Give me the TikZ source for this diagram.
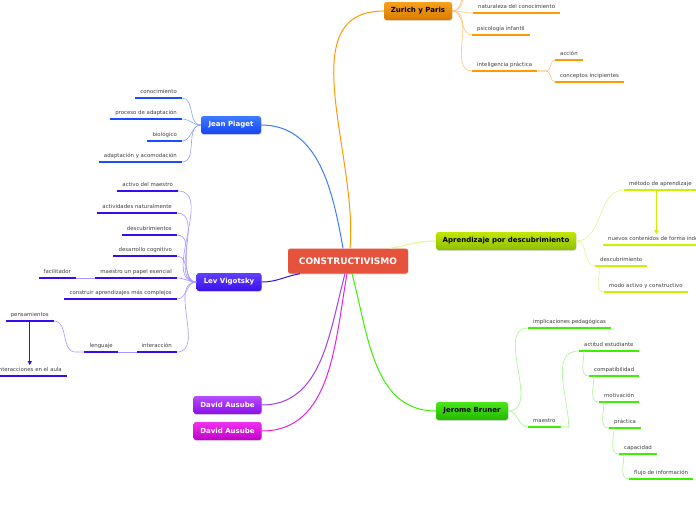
\documentclass[tikz,border=0pt]{standalone}
\usepackage{fontspec}
\setmainfont{DejaVu Sans}
\usepackage{tikz}
\usetikzlibrary{positioning}
\usetikzlibrary{calc}
\usetikzlibrary{arrows.meta}
\usetikzlibrary{shadows}

\definecolor{centro}{RGB}{229,83,60}
\definecolor{zurichA}{RGB}{247,162,27}
\definecolor{zurichB}{RGB}{217,122,0}
\definecolor{zurichL}{RGB}{255,154,0}
\definecolor{zurichT}{RGB}{255,197,122}
\definecolor{piagetA}{RGB}{63,123,255}
\definecolor{piagetB}{RGB}{21,69,245}
\definecolor{piagetL}{RGB}{26,77,255}
\definecolor{piagetT}{RGB}{140,165,255}
\definecolor{vigotA}{RGB}{96,64,255}
\definecolor{vigotB}{RGB}{58,16,232}
\definecolor{vigotL}{RGB}{58,10,240}
\definecolor{vigotT}{RGB}{165,151,255}
\definecolor{descA}{RGB}{196,230,0}
\definecolor{descB}{RGB}{140,191,0}
\definecolor{descL}{RGB}{204,240,0}
\definecolor{descT}{RGB}{227,245,144}
\definecolor{brunerA}{RGB}{76,230,26}
\definecolor{brunerB}{RGB}{34,184,0}
\definecolor{brunerL}{RGB}{60,240,0}
\definecolor{brunerT}{RGB}{166,245,140}
\definecolor{ausA}{RGB}{184,76,255}
\definecolor{ausB}{RGB}{138,16,230}
\definecolor{ausC}{RGB}{160,64,240}
\definecolor{magA}{RGB}{240,48,240}
\definecolor{magB}{RGB}{192,0,200}
\definecolor{magC}{RGB}{232,32,232}

\tikzset{
	hub/.style={rounded corners=2.5pt, minimum height=18pt, inner sep=0pt,
		font=\fontsize{7}{8}\selectfont\bfseries,
		drop shadow={opacity=0.25, shadow xshift=0.6pt, shadow yshift=-1pt}},
	leaf/.style={font=\fontsize{5.4}{6}\selectfont, text=black!75, inner xsep=5pt, inner ysep=2.5pt,
		text height=4pt, text depth=1.5pt,
		append after command={(\tikzlastnode.south west) edge[line width=2pt, draw=#1] (\tikzlastnode.south east)}},
	twig/.style={draw=#1, line width=0.6pt},
	branch/.style={draw=#1, line width=1pt}
}

\begin{document}
\begin{tikzpicture}[x=1pt, y=-1pt]
	\useasboundingbox (0,0) rectangle (696,520);
	\clip (0,0) rectangle (696,520);
	\fill[white] (0,0) rectangle (696,520);

	% hubs
	\node[hub, fill=centro, text=white, minimum width=120pt, minimum height=25pt,
		font=\fontsize{9}{10}\selectfont\bfseries] (constr) at (348,261) {CONSTRUCTIVISMO};
	\node[hub, top color=zurichA, bottom color=zurichB, minimum width=68pt] (zurich) at (418,11) {Zurich y Paris};
	\node[hub, top color=piagetA, bottom color=piagetB, text=white, minimum width=60pt] (piaget) at (231,125) {Jean Piaget};
	\node[hub, top color=vigotA, bottom color=vigotB, text=white, minimum width=65pt] (vigotsky) at (229,282) {Lev Vigotsky};
	\node[hub, top color=descA, bottom color=descB, minimum width=140pt] (descub) at (506,241) {Aprendizaje por descubrimiento};
	\node[hub, top color=brunerA, bottom color=brunerB, minimum width=72pt] (bruner) at (472,411) {Jerome Bruner};
	\node[hub, top color=ausA, bottom color=ausB, text=white, minimum width=68pt] (ausubelA) at (227.5,405) {David Ausube};
	\node[hub, top color=magA, bottom color=magB, text=white, minimum width=68pt] (ausubelB) at (227.5,431) {David Ausube};

	% main branches
	\draw[branch=piagetA] ([xshift=-5pt]constr.north) to[out=100, in=0] (piaget.east);
	\draw[branch=zurichL] ([xshift=2pt]constr.north) to[out=85, in=180] (zurich.west);
	\draw[branch=descT] ([xshift=-18pt]constr.north east) to[out=10, in=180] (descub.west);
	\draw[branch=brunerL] ([xshift=4pt]constr.south) to[out=-75, in=180] (bruner.west);
	\draw[branch=vigotB] ([xshift=12pt]constr.south west) to[out=190, in=0] (vigotsky.east);
	\draw[branch=ausC] ([xshift=-3pt]constr.south) to[out=-105, in=0] (ausubelA.east);
	\draw[branch=magC] ([xshift=-1pt]constr.south) to[out=-100, in=0] (ausubelB.east);

	% Zurich y Paris
	\node[leaf=zurichL, anchor=south west] (natur) at (473,13) {naturaleza del conocimiento};
	\node[leaf=zurichL, anchor=south west] (psico) at (472,35) {psicología infantil};
	\node[leaf=zurichL, anchor=south west] (intel) at (472,71) {inteligencia práctica};
	\node[leaf=zurichL, anchor=south west] (accion) at (555,60) {acción};
	\node[leaf=zurichL, anchor=south west] (concep) at (555,82) {conceptos incipientes};
	\coordinate (arribaA) at (472,-14);
	\coordinate (arribaB) at (476,-36);
	\foreach \n in {natur, psico, intel, arribaA, arribaB}
		\draw[twig=zurichT] (zurich.east) to[out=0, in=180] (\n.south west);
	\draw[twig=zurichT] (intel.south east) -- ++(9,0) to[out=0, in=180] (accion.south west);
	\draw[twig=zurichT] (intel.south east) -- ++(9,0) to[out=0, in=180] (concep.south west);

	% Jean Piaget
	\node[leaf=piagetL, anchor=south east] (conoc) at (182,98) {conocimiento};
	\node[leaf=piagetL, anchor=south east] (proceso) at (182,119) {proceso de adaptación};
	\node[leaf=piagetL, anchor=south east] (biolog) at (182,141) {biológico};
	\node[leaf=piagetL, anchor=south east] (adapt) at (182,162) {adaptación y acomodación};
	\foreach \n in {conoc, proceso, biolog, adapt}
		\draw[twig=piagetT] (piaget.west) to[out=180, in=0] (\n.south east);

	% Lev Vigotsky
	\node[leaf=vigotL, anchor=south east] (activo) at (178,191) {activo del maestro};
	\node[leaf=vigotL, anchor=south east] (activ) at (177,213) {actividades naturalmente};
	\node[leaf=vigotL, anchor=south east] (descubr) at (177,235) {descubrimientos};
	\node[leaf=vigotL, anchor=south east] (desarr) at (177,256) {desarrollo cognitivo};
	\node[leaf=vigotL, anchor=south east] (maestroV) at (177,278) {maestro un papel esencial};
	\node[leaf=vigotL, anchor=south east] (constru) at (177,299) {construir aprendizajes más complejos};
	\node[leaf=vigotL, anchor=south east] (interac) at (177,352) {interacción};
	\node[leaf=vigotL, anchor=south east] (facil) at (76,278) {facilitador};
	\node[leaf=vigotL, anchor=south east] (lenguaje) at (118,352) {lenguaje};
	\node[leaf=vigotL, anchor=south east] (pensam) at (54,321) {pensamientos};
	\node[leaf=vigotL, anchor=south east] (aula) at (67,376) {interacciones en el aula};
	\foreach \n in {activo, activ, descubr, desarr, maestroV, constru, interac}
		\draw[twig=vigotT] (vigotsky.west) to[out=180, in=0] (\n.south east);
	\draw[twig=vigotT] (maestroV.south west) -- (facil.south east);
	\draw[twig=vigotT] (interac.south west) -- (lenguaje.south east);
	\draw[twig=vigotT] (lenguaje.south west) -- ++(-9,0) to[out=180, in=0] (pensam.south east);
	\draw[-{Triangle[length=4pt, width=4pt]}, line width=0.9pt, vigotL] (pensam.south) -- (pensam.south |- aula.north);

	% Aprendizaje por descubrimiento
	\node[leaf=descL, anchor=south west] (metodo) at (624,190) {método de aprendizaje};
	\node[leaf=descL, anchor=south west] (nuevos) at (603,245) {nuevos contenidos de forma independiente};
	\node[leaf=descL, anchor=south west] (descubri) at (595,266) {descubrimiento};
	\node[leaf=descL, anchor=south west] (modo) at (604,292) {modo activo y constructivo};
	\draw[twig=descT] (descub.east) to[out=0, in=180] (metodo.south west);
	\draw[twig=descT] (descub.east) to[out=0, in=180] (descubri.south west);
	\draw[twig=descT] ([xshift=5pt]descubri.south west) to[out=-90, in=180] (modo.south west);
	\draw[-{Triangle[length=4pt, width=4pt]}, line width=0.9pt, descL] ([xshift=-4pt]metodo.south) -- ([xshift=-4pt]metodo.south |- nuevos.north);

	% Jerome Bruner
	\node[leaf=brunerL, anchor=south west] (implic) at (528,328) {implicaciones pedagógicas};
	\node[leaf=brunerL, anchor=south west] (maestroB) at (528,427) {maestro};
	\node[leaf=brunerL, anchor=south west] (actitud) at (579,351) {actitud estudiante};
	\node[leaf=brunerL, anchor=south west] (compat) at (589,376) {compatibilidad};
	\node[leaf=brunerL, anchor=south west] (motiv) at (599,402) {motivación};
	\node[leaf=brunerL, anchor=south west] (practica) at (609,428) {práctica};
	\node[leaf=brunerL, anchor=south west] (capac) at (619,454) {capacidad};
	\node[leaf=brunerL, anchor=south west] (flujo) at (629,479) {flujo de información};
	\draw[twig=brunerT] (bruner.east) to[out=0, in=180] (implic.south west);
	\draw[twig=brunerT] (bruner.east) to[out=0, in=180] (maestroB.south west);
	\draw[twig=brunerT] (maestroB.south east) -- ++(8,0) to[out=90, in=180] (actitud.south west);
	\foreach \a/\b in {actitud/compat, compat/motiv, motiv/practica, practica/capac, capac/flujo}
		\draw[twig=brunerT] ([xshift=5pt]\a.south west) to[out=-90, in=180] (\b.south west);
\end{tikzpicture}
\end{document}
